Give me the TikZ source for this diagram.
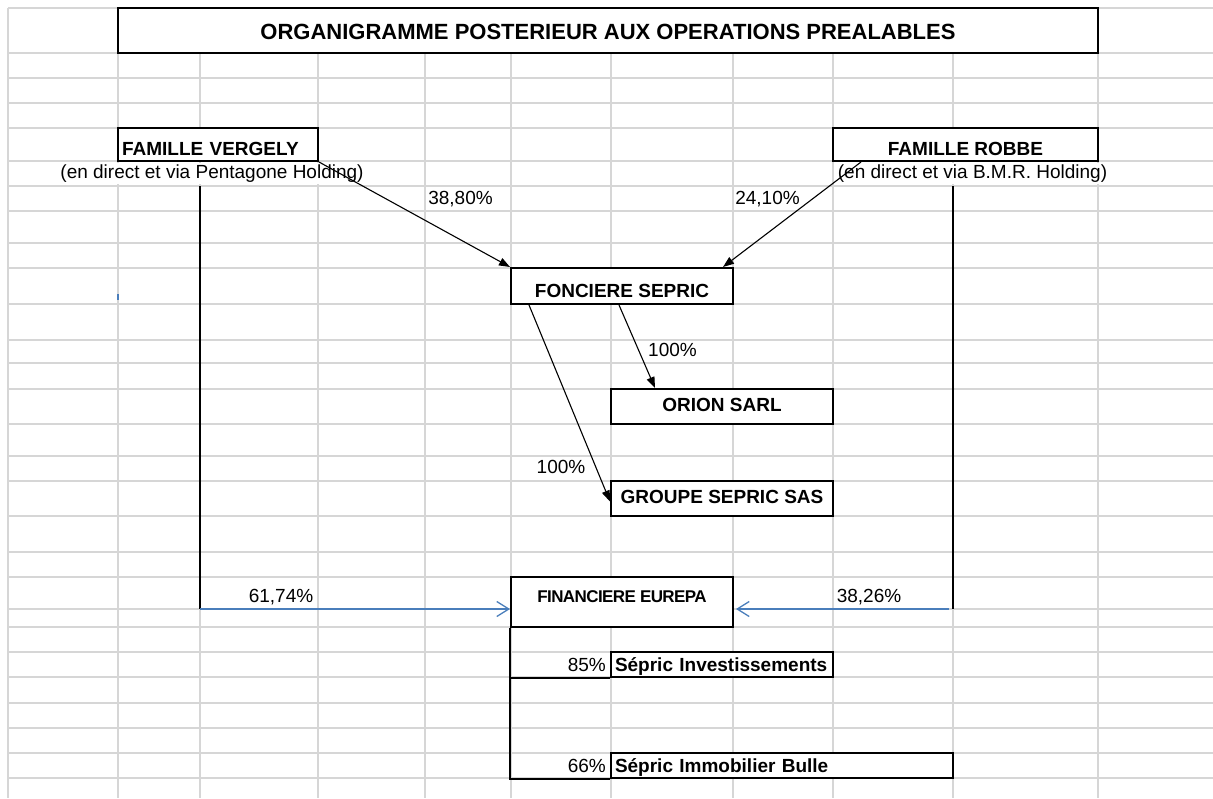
\documentclass[tikz,border=0pt]{standalone}
\usepackage{fontspec}
\setmainfont{Liberation Sans}
\usepackage{xcolor}
\usepackage{tikz}
\usetikzlibrary{arrows.meta}

\definecolor{grille}{HTML}{D6D6D6}
\definecolor{bleulien}{HTML}{4A7EBB}
\newcommand{\txt}{\fontsize{19}{19}\selectfont}

\begin{document}
\begin{tikzpicture}[x=1pt, y=-1pt,
		cell/.style={draw, fill=white, line width=2pt, inner sep=0pt, anchor=base, font=\txt\bfseries},
		pct/.style={inner sep=0pt, anchor=base, font=\txt},
		lien/.style={-{Triangle[length=11pt,width=8pt]}, line width=1.1pt},
		lienb/.style={-{Straight Barb[length=12pt,width=15pt]}, draw=bleulien, line width=1.3pt}]
		\useasboundingbox (0,0) rectangle (1213,798);

		% grille du tableur
		\foreach \gx in {8,118,200,318,425,511,611,733,833,953,1098}
			\draw[grille, line width=1.7pt] (\gx,8) -- (\gx,798);
		\foreach \gy in {8,53,78,103,128,161,186,211,243,268,304,340,363,389,424,456,481,516,552,577,609,627,652,677,703,728,753,778}
			\draw[grille, line width=1.7pt] (8,\gy) -- (1213,\gy);

		\node[cell, minimum width=980pt, text height=31.5pt, text depth=13.5pt, font=\fontsize{22}{22}\selectfont\bfseries] (titre) at (608,39.5) {ORGANIGRAMME POSTERIEUR AUX OPERATIONS PREALABLES};

		\node[cell, text width=192pt, inner xsep=4pt, align=left, text height=27.3pt, text depth=5.7pt] (vergely) at (218,155.3) {FAMILLE VERGELY};
		\node[cell, minimum width=265pt, text height=27.3pt, text depth=5.7pt] (robbe) at (965.5,155.3) {FAMILLE ROBBE};
		\node[pct, fill=white, text height=15pt, text depth=6pt] (svergely) at (212,178) {(en direct et via Pentagone Holding)};
		\node[pct, fill=white, text height=15pt, text depth=6pt] (srobbe) at (972.5,178) {(en direct et via B.M.R. Holding)};

		\node[cell, minimum width=222pt, text height=29pt, text depth=7pt] (fonciere) at (622,297) {FONCIERE SEPRIC};
		\node[cell, minimum width=222pt, text height=22.7pt, text depth=12.3pt] (orion) at (722,411.7) {ORION SARL};
		\node[cell, minimum width=222pt, text height=22.3pt, text depth=12.7pt] (groupe) at (722,503.3) {GROUPE SEPRIC SAS};
		\node[cell, minimum width=222pt, text height=25.7pt, text depth=24.3pt, font=\fontsize{17}{17}\selectfont\bfseries\addfontfeatures{LetterSpace=-3.5}] (eurepa) at (622,602.7) {FINANCIERE EUREPA};
		\node[cell, text width=214pt, inner xsep=4pt, align=left, text height=19pt, text depth=6pt] (invest) at (722,671) {Sépric Investissements};
		\node[cell, text width=334pt, inner xsep=4pt, align=left, text height=19.3pt, text depth=5.7pt] (bulle) at (782,772.3) {Sépric Immobilier Bulle};

		\node[pct] (p1) at (460.5,204) {38,80\%};
		\node[pct] (p2) at (767.5,204) {24,10\%};
		\node[pct] (p3) at (672.5,356.7) {100\%};
		\node[pct] (p4) at (561,473.3) {100\%};
		\node[pct] (p5) at (281,602.3) {61,74\%};
		\node[pct] (p6) at (869,602.3) {38,26\%};
		\node[pct, anchor=base east] (p7) at (606,671) {85\%};
		\node[pct, anchor=base east] (p8) at (606,772.3) {66\%};

		\coordinate (vhaut) at (200,186);
		\coordinate (vbas) at (200,609);
		\coordinate (rhaut) at (953,186);
		\coordinate (rbas) at (953,609);

		\draw[line width=2pt] (vhaut) -- (vbas);
		\draw[line width=2pt] (rhaut) -- (rbas);

		\draw[lien] (vergely.south east) -- (fonciere.north west);
		\draw[lien] ([xshift=29pt]robbe.south west) -- ([xshift=-11pt]fonciere.north east);
		\draw[lien] ([xshift=-3pt]fonciere.south) -- ([xshift=45pt]orion.north west);
		\draw[lien] ([xshift=19pt]fonciere.south west) -- ([yshift=-3pt]groupe.west);

		\draw[lienb] (vbas) -- (eurepa.west |- vbas);
		\draw[lienb] ([xshift=-4pt]rbas) -- ([xshift=2pt]eurepa.east |- rbas);

		\draw[line width=2pt] (eurepa.south west) |- (bulle.south west);
		\draw[line width=2pt] (invest.south west) -- (invest.south west -| eurepa.west);

		\draw[bleulien, line width=1.5pt] (118,294) -- (118,300);
	\end{tikzpicture}
\end{document}
